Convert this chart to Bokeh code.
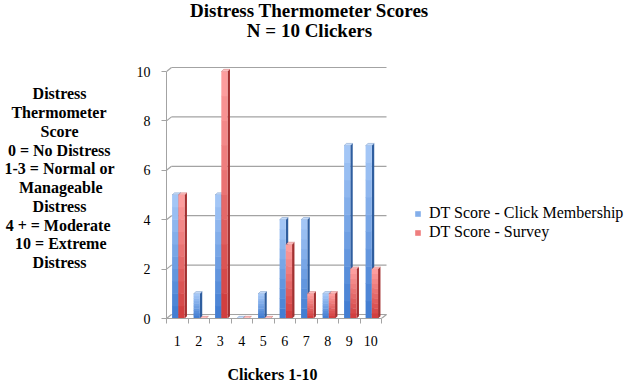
from bokeh.plotting import figure
from bokeh.models import (Range1d, FixedTicker, Label, Legend, LegendItem, ColumnDataSource,
                          LinearAxis, Title)
from bokeh.embed import file_html
from bokeh.resources import INLINE

# ---------------- data ----------------
clickers = ["1", "2", "3", "4", "5", "6", "7", "8", "9", "10"]
dt_click = [5, 1, 5, 0, 1, 4, 4, 1, 7, 7]
dt_survey = [5, 0, 10, 0, 0, 3, 1, 1, 2, 2]
y_ticks = [0, 2, 4, 6, 8, 10]
series_names = ["DT Score - Click Membership", "DT Score - Survey"]
title_lines = ["Distress Thermometer Scores", "N = 10 Clickers"]
side_lines = ["Distress", "Thermometer", "Score", "0 = No Distress", "1-3 = Normal or",
              "Manageable", "Distress", "4 + = Moderate", "10 = Extreme", "Distress"]
x_title = "Clickers 1-10"

# ---------------- layout constants ----------------
W, H = 628, 387
BL, BB = 166, 69          # frame left edge / bottom border (frame runs to top & right edge)
PXX, PXY = 21.5, 24.7     # pixels per unit
X0, Y0 = 0.5, 0.0
X1 = X0 + (W - BL) / PXX
Y1 = Y0 + (H - BB) / PXY
DX_W, DY_W = 5 / PXX, 4 / PXY       # wall / floor depth
DX_B, DY_B = 2.4 / PXX, 2.2 / PXY   # bar depth
SERIF = "Liberation Serif"
GRID = "#A3A3A3"
N = len(clickers)
X_END = N + 0.5 + DX_W

# approximate advance widths (1/1000 em) of the bold serif face, used only to centre lines
ADV = {' ': 250, '=': 570, '-': 333, '+': 570, 'D': 722, 'T': 667, 'S': 556, 'N': 722,
       'M': 944, 'E': 667, 'C': 722, 'a': 500, 'b': 556, 'c': 444, 'd': 556, 'e': 444,
       'g': 500, 'h': 556, 'i': 278, 'l': 278, 'm': 833, 'n': 556, 'o': 500, 'r': 444,
       's': 389, 't': 333, 'x': 500, 'p': 556, 'k': 556}


def adv(s):
    return sum(ADV.get(ch, 500) for ch in s)


def dx(page_x):
    return X0 + (page_x - BL) / PXX


def dy(page_y):
    return Y0 + (H - BB - page_y) / PXY


def lerp_hex(c0, c1, t):
    a = [int(c0[i:i + 2], 16) for i in (1, 3, 5)]
    b = [int(c1[i:i + 2], 16) for i in (1, 3, 5)]
    return "#%02x%02x%02x" % tuple(round(a[k] + (b[k] - a[k]) * t) for k in range(3))


p = figure(width=W, height=H, x_range=Range1d(X0, X1), y_range=Range1d(Y0, Y1),
           output_backend="svg", toolbar_location=None,
           min_border_left=BL, min_border_right=0, min_border_top=0, min_border_bottom=BB)
p.title = None
p.outline_line_color = None
p.xgrid.visible = False
p.ygrid.visible = False
p.background_fill_color = "white"

# 3D walls / gridlines
n = len(y_ticks)
p.segment(x0=[X0] * n, y0=y_ticks, x1=[X0 + DX_W] * n,
          y1=[t + DY_W for t in y_ticks], line_color=GRID, line_width=1.2)
p.segment(x0=[X0 + DX_W] * n, y0=[t + DY_W for t in y_ticks],
          x1=[X_END] * n, y1=[t + DY_W for t in y_ticks], line_color=GRID, line_width=1.2)
p.segment(x0=[N + 0.5], y0=[0], x1=[X_END], y1=[DY_W], line_color=GRID, line_width=1.2)

# bars
N_BANDS = 10
BAR_W = 0.29
specs = [
    (dt_click, -0.24, "#3E7AD0", "#A8CAF8", "#2F5E9F", "#C6DCFB"),
    (dt_survey, 0.05, "#D03A3A", "#FFA2A2", "#A33030", "#FFC0C0"),
]
front_renderers = []
for values, off, c_bot, c_top, c_side, c_cap in specs:
    lefts = [i + 1 + off for i in range(len(values))]
    rights = [l + BAR_W for l in lefts]
    p.patches(xs=[[r, r + DX_B, r + DX_B, r] for r in rights],
              ys=[[0, DY_B, v + DY_B, v] for v in values],
              fill_color=c_side, line_color=None)
    p.patches(xs=[[l, l + DX_B, r + DX_B, r] for l, r in zip(lefts, rights)],
              ys=[[v, v + DY_B, v + DY_B, v] for v in values],
              fill_color=c_cap, line_color=c_side, line_width=0.5, line_alpha=0.6)
    bl, br, bb, bt, bc = [], [], [], [], []
    for l, r, v in zip(lefts, rights, values):
        for k in range(N_BANDS):
            bl.append(l); br.append(r)
            bb.append(v * k / N_BANDS)
            bt.append(v * (k + 1) / N_BANDS + (0.02 if k < N_BANDS - 1 else 0))
            bc.append(lerp_hex(c_bot, c_top, (k + 0.5) / N_BANDS))
    src = ColumnDataSource(dict(left=bl, right=br, bottom=bb, top=bt, color=bc))
    r = p.quad(left="left", right="right", bottom="bottom", top="top", fill_color="color",
               line_color=None, source=src)
    front_renderers.append(r)

# x axis
xa = p.xaxis[0]
xa.ticker = FixedTicker(ticks=list(range(1, N + 1)),
                        minor_ticks=[i + 0.5 for i in range(N + 1)])
xa.major_label_overrides = {i + 1: c for i, c in enumerate(clickers)}
xa.bounds = (0.5, N + 0.5)
xa.major_tick_out = 0
xa.major_tick_in = 0
xa.minor_tick_out = 5
xa.minor_tick_in = 0
xa.minor_tick_line_color = GRID
xa.axis_line_color = GRID
xa.major_label_standoff = 12
xa.major_label_text_font = SERIF
xa.major_label_text_font_size = "14px"
xa.major_label_text_color = "black"

# x axis title, placed under the axis and left-offset so it centres under the categories
XT_FS = 16
xt_w = adv(x_title) * XT_FS / 1000
p.add_layout(Title(text="\n" + x_title, align="left", offset=272 - xt_w / 2 - BL,
                   vertical_align="top", standoff=0, text_line_height=1.0,
                   text_font=SERIF, text_font_style="bold", text_font_size=f"{XT_FS}px",
                   text_color="black"), "below")

# y axis
ya = p.yaxis[0]
ya.ticker = FixedTicker(ticks=y_ticks, minor_ticks=[])
ya.bounds = (0, 10)
ya.major_tick_out = 5
ya.major_tick_in = 0
ya.major_tick_line_color = GRID
ya.axis_line_color = GRID
ya.major_label_standoff = 11
ya.major_label_text_font = SERIF
ya.major_label_text_font_size = "14px"
ya.major_label_text_color = "black"

# explanatory text block as the label of a bare second left axis (lines centred with nbsp)
widths = [adv(s) for s in side_lines]
wmax = max(widths)
padded = [s + "\u00a0" * round((wmax - w) / 2 / 250) for s, w in zip(side_lines, widths)]
side_axis = LinearAxis(ticker=FixedTicker(ticks=[], minor_ticks=[]),
                       axis_line_color=None, major_tick_line_color=None,
                       minor_tick_line_color=None,
                       axis_label="\n".join(["", ""] + padded),
                       axis_label_orientation="horizontal",
                       axis_label_standoff=19,
                       axis_label_text_line_height=1.104,
                       axis_label_text_font=SERIF, axis_label_text_font_style="bold",
                       axis_label_text_font_size="16px", axis_label_text_color="black")
p.add_layout(side_axis, "left")

# title inside the (tall) frame
for i, t in enumerate(title_lines):
    p.add_layout(Label(x=dx(309), y=dy(10 + 20 * i), text=t, text_align="center",
                       text_baseline="middle", text_font=SERIF, text_font_style="bold",
                       text_font_size="19px", text_color="black"))

# legend inside the frame, right of the bars
legend = Legend(items=[LegendItem(label=series_names[0], renderers=[front_renderers[0]], index=6),
                       LegendItem(label=series_names[1], renderers=[front_renderers[1]], index=6)],
                location=(414 - BL, H - BB - 241.5), orientation="vertical",
                glyph_width=7, glyph_height=7, label_standoff=8, spacing=0,
                label_height=19, padding=0, margin=0,
                border_line_color=None, background_fill_alpha=0,
                label_text_font=SERIF, label_text_font_size="16px", label_text_color="black")
p.add_layout(legend, "center")

open("out.html", "w").write(file_html(p, INLINE))
